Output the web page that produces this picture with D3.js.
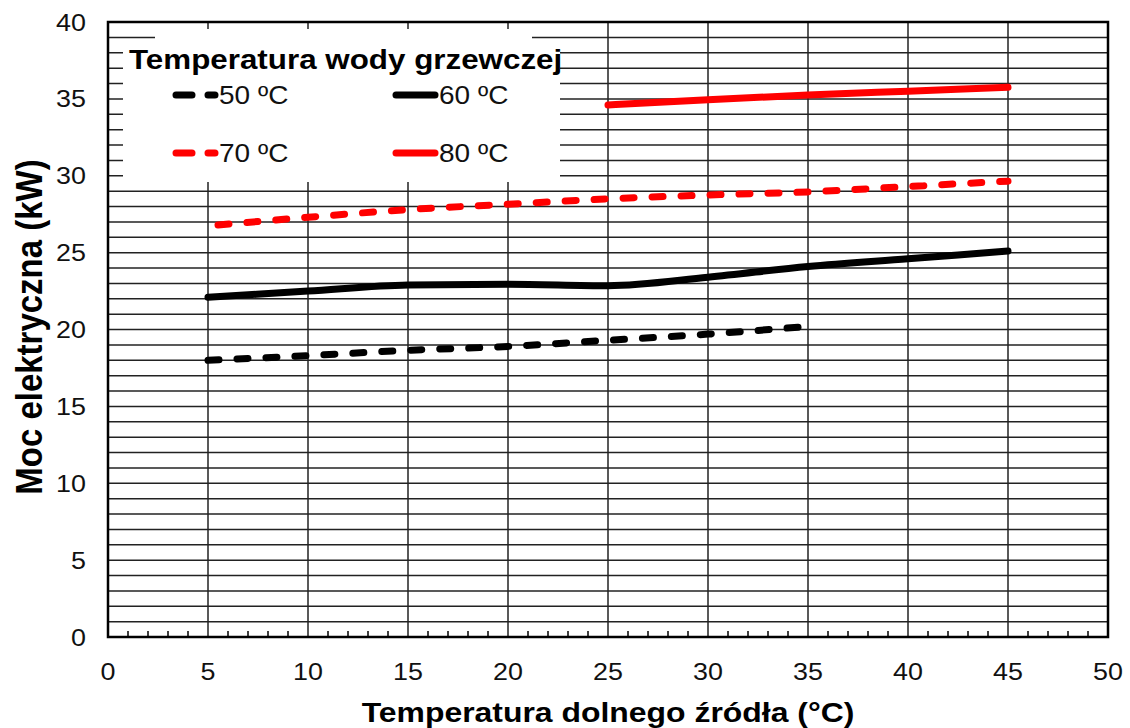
<!DOCTYPE html>
<html>
<head>
<meta charset="utf-8">
<script src="https://cdn.jsdelivr.net/npm/d3@7"></script>
<style>
  body { margin: 0; background: #fff; }
  svg { font-family: "Liberation Sans", Arial, sans-serif; }
</style>
</head>
<body>
<div id="chart"></div>
<script>
"use strict";

// source temperature (x) and electric power (y)
let temp5to45 = [5, 10, 15, 20, 25, 30, 35, 40, 45];
let temp5to35 = [5, 10, 15, 20, 25, 30, 35];
let temp70 = [5.5, 10, 15, 20, 25, 30, 35, 40, 45];
let temp25to45 = [25, 30, 35, 40, 45];

let power50 = [18.0, 18.3, 18.65, 18.9, 19.3, 19.7, 20.2];
let power60 = [22.1, 22.5, 22.9, 22.95, 22.85, 23.4, 24.1, 24.6, 25.1];
let power70 = [26.8, 27.3, 27.8, 28.15, 28.5, 28.75, 28.95, 29.3, 29.65];
let power80 = [34.6, 34.95, 35.25, 35.5, 35.75];

let seriesNames = ["50 ºC", "60 ºC", "70 ºC", "80 ºC"];
let xTicks = [0, 5, 10, 15, 20, 25, 30, 35, 40, 45, 50];
let yTicks = [0, 5, 10, 15, 20, 25, 30, 35, 40];

let series = [
    {name: seriesNames[0], xs: temp5to35, ys: power50, color: "#000", dashed: true},
    {name: seriesNames[1], xs: temp5to45, ys: power60, color: "#000", dashed: false},
    {name: seriesNames[2], xs: temp70, ys: power70, color: "#f00", dashed: true},
    {name: seriesNames[3], xs: temp25to45, ys: power80, color: "#f00", dashed: false}
];

let width = 1130, height = 728;
let plotLeft = 108, plotRight = 1108, plotTop = 22, plotBottom = 637;
let stretch = 1.12; // the picture's text is a bit wider than the font

let svg = d3.select("#chart").append("svg")
    .attr("width", width)
    .attr("height", height);

let x = d3.scaleLinear().domain([0, 50]).range([plotLeft, plotRight]);
let y = d3.scaleLinear().domain([0, 40]).range([plotBottom, plotTop]);

// places a text with its glyphs widened
function wideText(g, tx, ty, size) {
    return g.append("text")
        .attr("transform", "translate(" + tx + "," + ty + ") scale(" + stretch + ",1)")
        .attr("font-size", size);
}

// horizontal grid every 1 kW
let grid = svg.append("g");
grid.selectAll(".hg")
    .data(d3.range(1, 40))
    .join("line")
    .attr("x1", plotLeft).attr("x2", plotRight)
    .attr("y1", d => y(d)).attr("y2", d => y(d))
    .attr("stroke", "#222")
    .attr("stroke-width", 1.5);

// vertical grid every 5 degrees
grid.selectAll(".vg")
    .data(xTicks.slice(1, -1))
    .join("line")
    .attr("x1", d => x(d)).attr("x2", d => x(d))
    .attr("y1", plotTop).attr("y2", plotBottom)
    .attr("stroke", "#222")
    .attr("stroke-width", 1.5);

// minor ticks on the bottom axis
grid.selectAll(".mt")
    .data(d3.range(1, 50).filter(d => d % 5 != 0))
    .join("line")
    .attr("x1", d => x(d)).attr("x2", d => x(d))
    .attr("y1", plotBottom).attr("y2", plotBottom - 6)
    .attr("stroke", "#000")
    .attr("stroke-width", 1.5);

// legend background (covers the grid)
let legend = svg.append("g");
legend.append("rect")
    .attr("x", 155).attr("y", 29)
    .attr("width", 377).attr("height", 20)
    .attr("fill", "#fff");
legend.append("rect")
    .attr("x", 123).attr("y", 44)
    .attr("width", 437).attr("height", 138)
    .attr("fill", "#fff");

// data lines
let line = d3.line()
    .x(d => x(d[0]))
    .y(d => y(d[1]))
    .curve(d3.curveMonotoneX);

svg.append("g").selectAll("path")
    .data(series)
    .join("path")
    .attr("d", s => line(s.xs.map((v, i) => [v, s.ys[i]])))
    .attr("fill", "none")
    .attr("stroke", s => s.color)
    .attr("stroke-width", 7)
    .attr("stroke-linecap", "round")
    .attr("stroke-dasharray", s => s.dashed ? "11,18" : null);

// frame
svg.append("rect")
    .attr("x", plotLeft).attr("y", plotTop)
    .attr("width", plotRight - plotLeft).attr("height", plotBottom - plotTop)
    .attr("fill", "none")
    .attr("stroke", "#000")
    .attr("stroke-width", 2.5);

// tick labels
let labels = svg.append("g").attr("fill", "#111");
xTicks.forEach(d => {
    wideText(labels, x(d), 680, 24)
        .attr("text-anchor", "middle")
        .text(d);
});
yTicks.forEach(d => {
    wideText(labels, 86, y(d) + 8.5, 24)
        .attr("text-anchor", "end")
        .text(d);
});

// axis titles
wideText(svg, (plotLeft + plotRight) / 2, 722, 28.5)
    .attr("text-anchor", "middle")
    .attr("font-weight", "bold")
    .text("Temperatura dolnego źródła (°C)");

svg.append("text")
    .attr("transform", "translate(42,327) rotate(-90) scale(1," + stretch + ")")
    .attr("text-anchor", "middle")
    .attr("font-size", 33)
    .attr("font-weight", "bold")
    .text("Moc elektryczna (kW)");

// legend contents
wideText(legend, 129, 69, 28)
    .attr("font-weight", "bold")
    .text("Temperatura wody grzewczej");

let legendPos = [[173, 95], [393, 95], [173, 153], [393, 153]];
series.forEach((s, i) => {
    let p = legendPos[i];
    legend.append("line")
        .attr("x1", p[0] + 3).attr("x2", p[0] + 42)
        .attr("y1", p[1]).attr("y2", p[1])
        .attr("stroke", s.color)
        .attr("stroke-width", 7)
        .attr("stroke-linecap", "round")
        .attr("stroke-dasharray", s.dashed ? "16,16" : null);
    wideText(legend, p[0] + 46, p[1] + 9, 25)
        .attr("fill", "#111")
        .text(s.name);
});
</script>
</body>
</html>
